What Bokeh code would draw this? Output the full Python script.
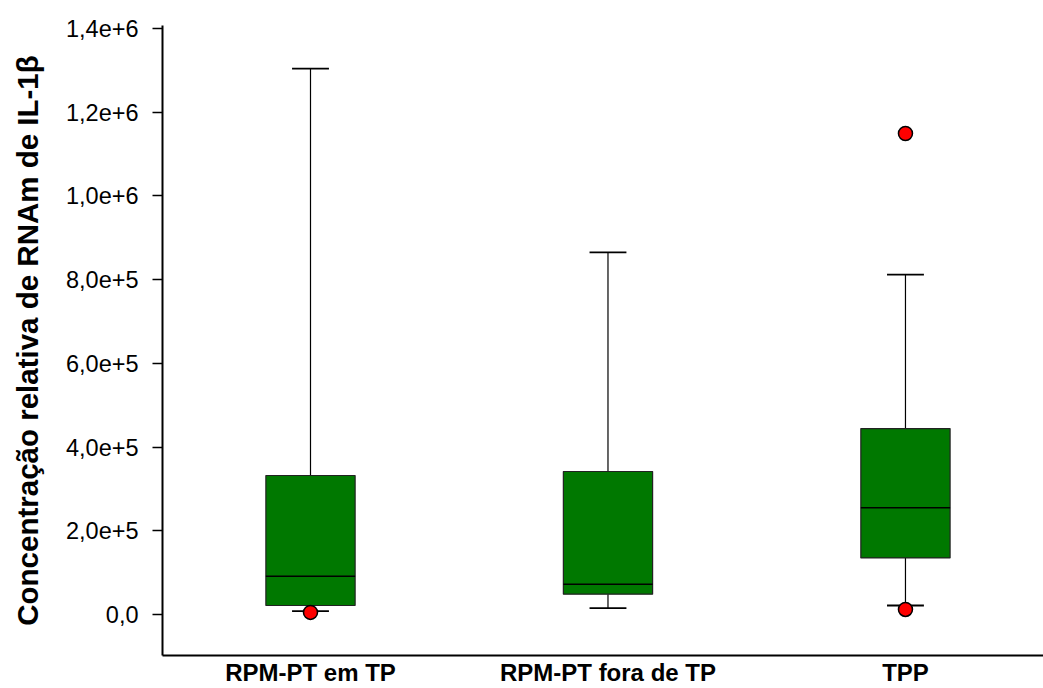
from bokeh.plotting import figure
from bokeh.models import FixedTicker, ColumnDataSource
from bokeh.embed import file_html
from bokeh.resources import INLINE

# ---- data ----
categories = ["RPM-PT em TP", "RPM-PT fora de TP", "TPP"]
q1 = [21500, 48500, 135000]
median = [91500, 72000, 255000]
q3 = [332000, 341600, 444000]
lower_whisker = [8000, 15000, 21500]
upper_whisker = [1304000, 865000, 812000]
outlier_group = [0, 2, 2]
outlier_values = [5000, 12000, 1149000]
y_ticks = [0, 200000, 400000, 600000, 800000, 1000000, 1200000, 1400000]
y_tick_labels = ["0,0", "2,0e+5", "4,0e+5", "6,0e+5", "8,0e+5", "1,0e+6", "1,2e+6", "1,4e+6"]
y_label = "Concentração relativa de RNAm de IL-1β"

# ---- style ----
FONT = "Liberation Sans"
GREEN = "#007800"
BOX_W = 0.30
CAP_HALF = 0.062

xs = [i + 1 for i in range(len(categories))]

src = ColumnDataSource(dict(
    x=xs, q1=q1, med=median, q3=q3, lo=lower_whisker, hi=upper_whisker,
    x0=[x - BOX_W / 2 for x in xs], x1=[x + BOX_W / 2 for x in xs],
    c0=[x - CAP_HALF for x in xs], c1=[x + CAP_HALF for x in xs],
))
out_src = ColumnDataSource(dict(x=[xs[g] for g in outlier_group], y=outlier_values))

p = figure(width=1043, height=688, output_backend="svg", toolbar_location=None,
           x_range=(0.5025, 3.464), y_range=(-98000, 1407000),
           min_border_left=162, min_border_right=0, min_border_top=25, min_border_bottom=33)
p.background_fill_color = "white"
p.border_fill_color = "white"
p.outline_line_color = None
p.grid.visible = False

# whiskers
p.segment(x0="x", y0="q3", x1="x", y1="hi", source=src, line_color="black", line_width=1.2)
p.segment(x0="x", y0="q1", x1="x", y1="lo", source=src, line_color="black", line_width=1.2)
# caps
p.segment(x0="c0", y0="hi", x1="c1", y1="hi", source=src, line_color="black", line_width=1.8)
p.segment(x0="c0", y0="lo", x1="c1", y1="lo", source=src, line_color="black", line_width=1.8)
# boxes
p.vbar(x="x", width=BOX_W, bottom="q1", top="q3", source=src,
       fill_color=GREEN, line_color="#222222", line_width=1.2)
# medians
p.segment(x0="x0", y0="med", x1="x1", y1="med", source=src, line_color="black", line_width=1.5)
# outliers
p.scatter(x="x", y="y", source=out_src, marker="circle", size=14,
          fill_color="#ff0000", line_color="black", line_width=1.5)

# y axis
yax = p.yaxis[0]
yax.ticker = FixedTicker(ticks=y_ticks)
yax.major_label_overrides = {t: l for t, l in zip(y_ticks, y_tick_labels)}
yax.minor_tick_line_color = None
yax.major_tick_in = 0
yax.major_tick_out = 10
yax.major_tick_line_width = 1.5
yax.axis_line_width = 2
yax.axis_line_color = "black"
yax.major_label_text_font = FONT
yax.major_label_text_font_size = "23.5px"
yax.major_label_text_color = "black"
yax.major_label_standoff = 14
yax.axis_label = y_label
yax.axis_label_text_font = FONT
yax.axis_label_text_font_style = "bold"
yax.axis_label_text_font_size = "29.5px"
yax.axis_label_text_color = "black"
yax.axis_label_standoff = 19

# x axis
xax = p.xaxis[0]
xax.ticker = FixedTicker(ticks=xs)
xax.major_label_overrides = {x: c for x, c in zip(xs, categories)}
xax.minor_tick_line_color = None
xax.major_tick_in = 0
xax.major_tick_out = 0
xax.axis_line_width = 2
xax.axis_line_color = "black"
xax.major_label_text_font = FONT
xax.major_label_text_font_style = "bold"
xax.major_label_text_font_size = "24px"
xax.major_label_text_color = "black"
xax.major_label_standoff = 3

open("out.html", "w").write(file_html(p, INLINE))
